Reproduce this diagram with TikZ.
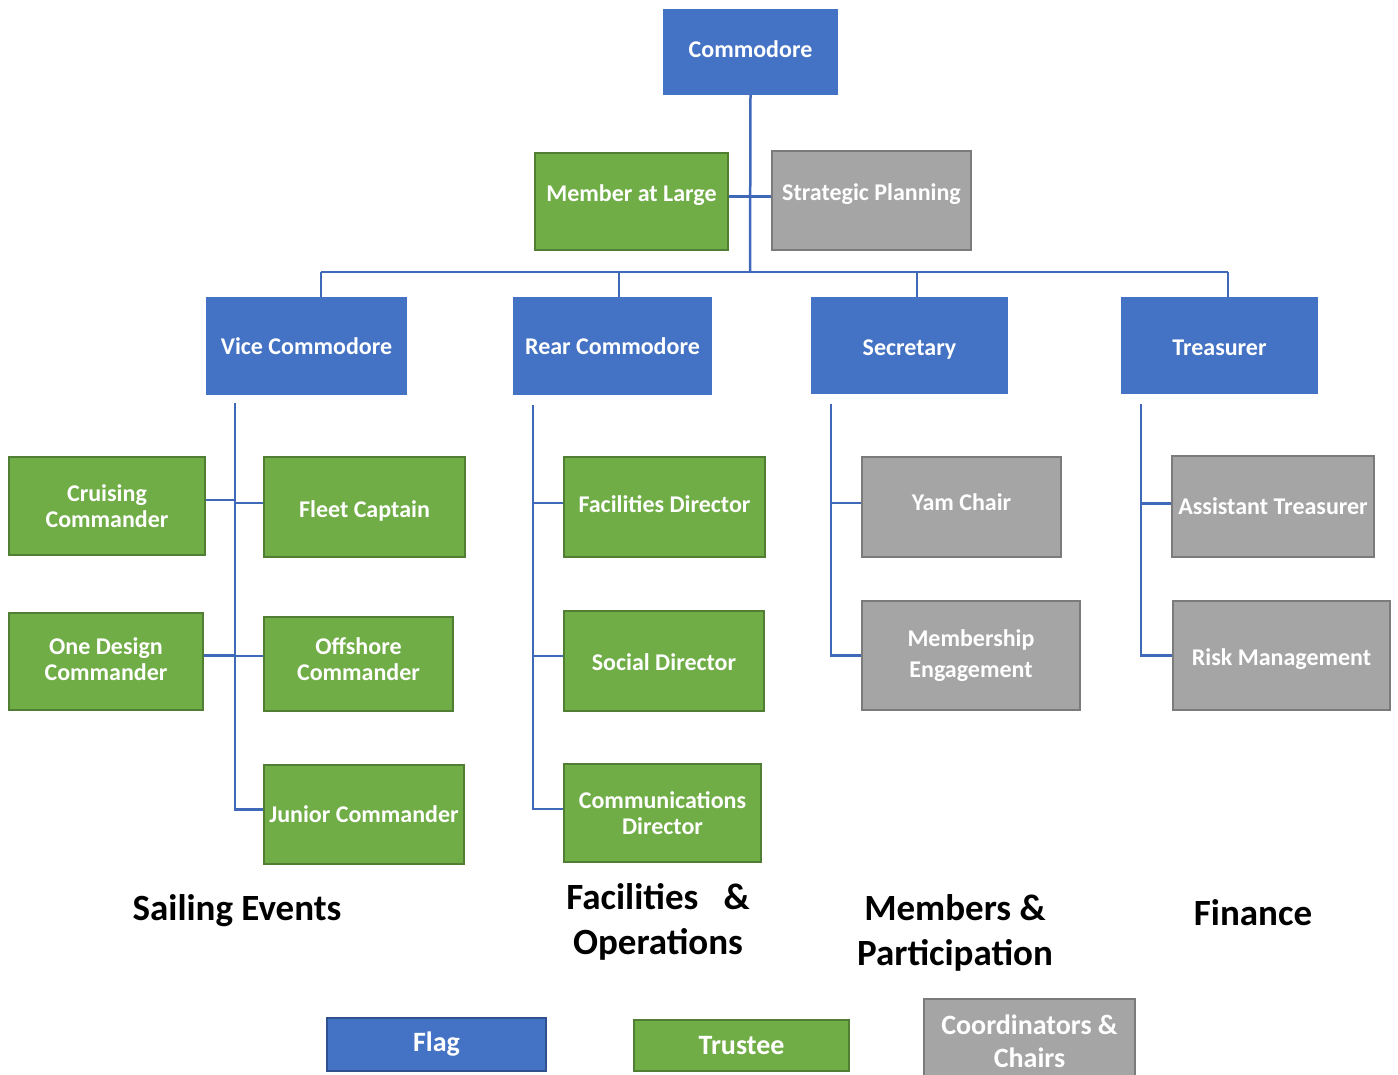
\documentclass[tikz,border=0pt]{standalone}
\usepackage{fontspec}
\setmainfont{Carlito}
\usepackage{tikz}

\definecolor{flagblue}{HTML}{4472C4}
\definecolor{flagedge}{HTML}{2F528F}
\definecolor{trustgreen}{HTML}{70AD47}
\definecolor{trustedge}{HTML}{507E32}
\definecolor{chairgray}{HTML}{A5A5A5}
\definecolor{chairedge}{HTML}{7B7B7B}
\definecolor{linkblue}{HTML}{4068B8}

\tikzset{
  post/.style={text=white, font=\bfseries\fontsize{24}{26}\selectfont, align=center, inner sep=0pt},
  flag/.style={post, fill=flagblue},
  trustee/.style={post, fill=trustgreen, draw=trustedge, line width=2.5pt},
  chair/.style={post, fill=chairgray, draw=chairedge, line width=2.5pt},
  legend/.style={font=\bfseries\fontsize{28}{33}\selectfont},
  group/.style={font=\bfseries\fontsize{37}{45}\selectfont, align=center},
  link/.style={draw=linkblue, line width=2.5pt},
}

\begin{document}
\begin{tikzpicture}[x=1pt,y=-1pt]
\clip (0,0) rectangle (1398,1074); % page is the size of the chart
% top of the tree
\node[flag, minimum width=175, minimum height=86, text depth=6pt] (cmd) at (750.5,52) {Commodore};
\node[trustee, minimum width=193, minimum height=97, text depth=17pt] (mal) at (631.5,201.5) {Member at Large};
\node[chair, minimum width=199, minimum height=99, text depth=17pt] (sp) at (871.5,200.5) {Strategic Planning};
% the four flag officers
\node[flag, minimum width=201, minimum height=98] (vc) at (306.5,346) {Vice Commodore};
\node[flag, minimum width=199, minimum height=98] (rc) at (612.5,346) {Rear Commodore};
\node[flag, minimum width=197, minimum height=97, text height=24pt] (sec) at (909.5,345.5) {Secretary};
\node[flag, minimum width=197, minimum height=97, text height=20pt] (tr) at (1219.5,345.5) {Treasurer};
% sailing events
\node[trustee, minimum width=196, minimum height=98] (cc) at (107,506) {Cruising\\Commander};
\node[trustee, minimum width=201, minimum height=100, text height=24pt] (fc) at (364.5,507) {Fleet Captain};
\node[trustee, minimum width=194, minimum height=97, text depth=5pt] (od) at (106,661.5) {One Design\\Commander};
\node[trustee, minimum width=189, minimum height=94, text depth=10pt] (oc) at (358.5,664) {Offshore\\Commander};
\node[trustee, minimum width=200, minimum height=99] (jc) at (364,814.5) {Junior Commander};
% facilities and operations
\node[trustee, minimum width=201, minimum height=100, text depth=6pt] (fd) at (664.5,507) {Facilities Director};
\node[trustee, minimum width=200, minimum height=100, text height=20pt] (sd) at (664,661) {Social Director};
\node[trustee, minimum width=197, minimum height=98] (cd) at (662.5,813) {Communications\\Director};
% members and participation
\node[chair, minimum width=199, minimum height=100, text depth=10pt] (yc) at (961.5,507) {Yam Chair};
\node[chair, minimum width=218, minimum height=109, font=\bfseries\fontsize{24}{31}\selectfont] (me) at (971,655.5) {Membership\\Engagement};
% finance
\node[chair, minimum width=202, minimum height=101] (at) at (1273,506.5) {Assistant Treasurer};
\node[chair, minimum width=217, minimum height=109, text height=24pt] (rm) at (1281.5,655.5) {Risk Management};

% connectors
\coordinate (bus) at (750,272);
\draw[link] (cmd.south) -- (bus);
\draw[link] ([yshift=5]mal.east) -- ([yshift=5]mal.east -| sp.west);
\draw[link] ([xshift=14.5]vc.north |- bus) -- ([xshift=8.5]tr.north |- bus);
\foreach \n/\dx in {vc/14.5, rc/6.5, sec/7.5, tr/8.5}
  \draw[link] ([xshift=\dx]\n.north |- bus) -- ([xshift=\dx]\n.north);
% spines down each column
\coordinate (vcs) at ([xshift=29,yshift=-8]vc.south west);
\coordinate (rcs) at ([xshift=20,yshift=-10]rc.south west);
\coordinate (secs) at ([xshift=20,yshift=-10]sec.south west);
\coordinate (trs) at ([xshift=20,yshift=-10]tr.south west);
\foreach \n/\s in {cc/6, od/6}
  \draw[link] (vcs) |- ([yshift=\s]\n.east);
\foreach \n/\s in {fc/4, oc/8, jc/5}
  \draw[link] (vcs) |- ([yshift=\s]\n.west);
\foreach \n/\s in {fd/4, sd/5, cd/4}
  \draw[link] (rcs) |- ([yshift=\s]\n.west);
\foreach \n/\s in {yc/4, me/0}
  \draw[link] (secs) |- ([yshift=\s]\n.west);
\foreach \n/\s in {at/3, rm/0}
  \draw[link] (trs) |- ([yshift=\s]\n.west);

% group names under the columns
\node[group] (sail) at (237,911) {Sailing Events};
\node[group] (facops) at (658,922) {Facilities~~~\&\\Operations};
\node[group] (memb) at (955,933) {Members \&\\Participation};
\node[group] (fin) at (1253,913) {Finance};

% legend
\node[flag, legend, draw=flagedge, line width=2pt, minimum width=219, minimum height=53] (kflag) at (436.5,1044.5) {Flag};
\node[trustee, legend, minimum width=215, minimum height=51] (ktrust) at (741.5,1045.5) {Trustee};
\node[chair, legend, align=center, minimum width=211, minimum height=84] (kchair) at (1029.5,1041) {Coordinators \&\\Chairs};
\end{tikzpicture}
\end{document}
